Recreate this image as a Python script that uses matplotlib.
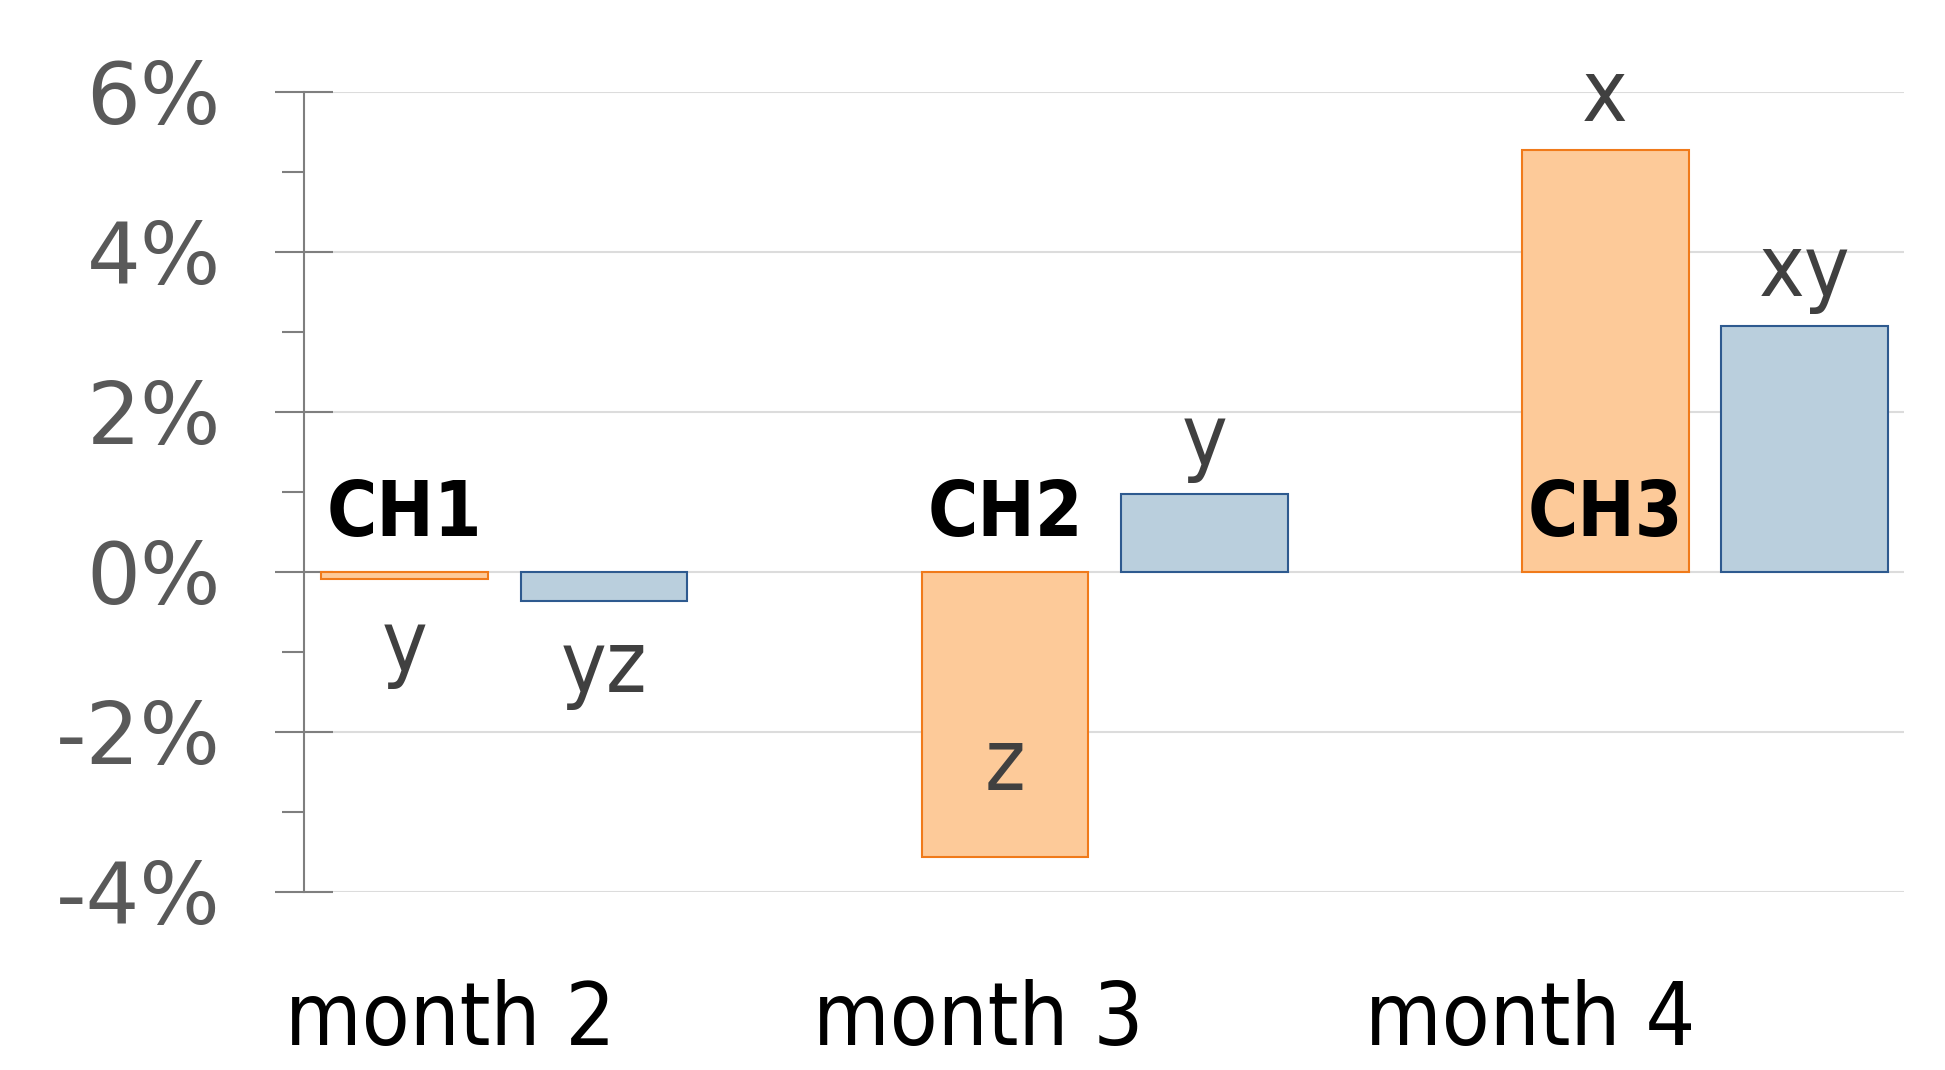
import numpy as np
import matplotlib
matplotlib.use("Agg")
import matplotlib.pyplot as plt
import matplotlib.transforms as mtransforms
from matplotlib.ticker import FuncFormatter, MultipleLocator

# data (percent)
months = ["month 2", "month 3", "month 4"]
orange_vals = [-0.09, -3.56, 5.27]
blue_vals = [-0.36, 0.97, 3.08]
orange_labels = ["y", "z", "x"]
blue_labels = ["yz", "y", "xy"]
orange_label_pos = ["below", "inside", "above"]
blue_label_pos = ["below", "above", "above"]
ch_labels = ["CH1", "CH2", "CH3"]
ch_level = 0.45

# styles
orange_fill, orange_edge = "#fdca99", "#f07a1a"
blue_fill, blue_edge = "#bacfdd", "#2e5a8f"
axis_gray = "#7f7f7f"

fig = plt.figure(figsize=(19.45, 10.70), dpi=100)
ax = fig.add_axes([0.1563, 0.1664, 0.8226, 0.7477])

x = np.arange(len(months))
w = 0.278
off = 0.166
b1 = ax.bar(x - off, orange_vals, w, color=orange_fill, edgecolor=orange_edge, linewidth=1.5, zorder=3)
b2 = ax.bar(x + off, blue_vals, w, color=blue_fill, edgecolor=blue_edge, linewidth=1.5, zorder=3)

ax.set_xlim(-0.334, 2.332)
ax.set_ylim(-4, 6)

# value letters
lab_font = dict(fontsize=62, color="#404040", family="DejaVu Sans", fontstretch="condensed",
                ha="center", va="baseline")
offsets = {"above": 21, "below": -66, "inside": 48}
for bars, vals, labs, pos in [(b1, orange_vals, orange_labels, orange_label_pos),
                              (b2, blue_vals, blue_labels, blue_label_pos)]:
    for rect, v, t, p in zip(bars, vals, labs, pos):
        cx = rect.get_x() + rect.get_width() / 2
        ax.annotate(t, (cx, v), xytext=(0, offsets[p]), textcoords="offset points", **lab_font)

# CH labels over orange bars
for rect, t in zip(b1, ch_labels):
    cx = rect.get_x() + rect.get_width() / 2
    ax.text(cx, ch_level, t, fontsize=55, fontweight="bold", fontstretch="condensed",
            ha="center", va="baseline", color="black", zorder=4)

# month labels (below axis)
month_off = [-0.09, -0.21, -0.29]
trans = mtransforms.blended_transform_factory(ax.transData, ax.transAxes)
for i, m in enumerate(months):
    ax.text(x[i] + month_off[i], -0.2143, m, transform=trans, fontsize=63,
            fontstretch="condensed", ha="center", va="bottom", color="black", clip_on=False)

# axes styling
ax.set_xticks([])
ax.yaxis.set_major_locator(MultipleLocator(2))
ax.yaxis.set_minor_locator(MultipleLocator(1))
ax.yaxis.set_major_formatter(FuncFormatter(lambda v, p: f"{v:.0f}%"))
ax.tick_params(axis="y", which="major", direction="inout", length=42, width=1.5,
               color=axis_gray, labelsize=61, labelcolor="#595959", pad=39)
ax.tick_params(axis="y", which="minor", direction="out", length=16, width=1.5, color=axis_gray)
ax.grid(axis="y", which="major", color="#dcdcdc", linewidth=1.5, zorder=0)
ax.set_axisbelow(True)
for s in ["top", "right", "bottom"]:
    ax.spines[s].set_visible(False)
ax.spines["left"].set_color(axis_gray)
ax.spines["left"].set_linewidth(1.5)

fig.savefig("out.png", dpi=100)
